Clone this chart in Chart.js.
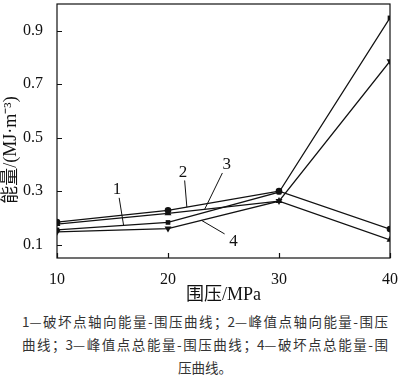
<!DOCTYPE html>
<html>
<head>
<meta charset="utf-8">
<script src="https://cdn.jsdelivr.net/npm/chart.js@4.4.1/dist/chart.umd.min.js"></script>
<style>
  body { margin: 0; background: #fff; }
  #wrap { position: relative; width: 400px; height: 310px; }
  .cap { font-family: 'Noto Sans CJK SC', sans-serif; font-size: 13.5px; color: #333; width: 366px; margin-left: 22px; line-height: 23px; }
  .cap.full { text-align: justify; text-align-last: justify; }
  .cap.mid { text-align: center; }
</style>
</head>
<body>
<div id="wrap"><canvas id="chart" width="400" height="310"></canvas></div>
<div>
  <div class="cap full">1—破坏点轴向能量-围压曲线；2—峰值点轴向能量-围压</div>
  <div class="cap full">曲线；3—峰值点总能量-围压曲线；4—破坏点总能量-围</div>
  <div class="cap mid">压曲线。</div>
</div>
<script>
const pressure = [10, 20, 30, 40];
const failAxial = [0.155, 0.183, 0.296, 0.948];   // 1
const peakAxial = [0.184, 0.228, 0.300, 0.158];   // 2
const peakTotal = [0.177, 0.217, 0.263, 0.118];   // 3
const failTotal = [0.148, 0.160, 0.263, 0.786];   // 4
const yTicks = [0.1, 0.3, 0.5, 0.7, 0.9];
const xTicks = [10, 20, 30, 40];
const yTitle = '能量/(MJ·m⁻³)';

// curve number labels, in data units: text spot and leader line end
const curveLabels = [
  { text: '1', tx: 15.4, ty: 0.305, lx1: 15.6, ly1: 0.275, lx2: 16.0, ly2: 0.172 },
  { text: '2', tx: 21.35, ty: 0.37, lx1: 21.5, ly1: 0.34, lx2: 21.7, ly2: 0.24 },
  { text: '3', tx: 25.3, ty: 0.40, lx1: 24.9, ly1: 0.368, lx2: 23.3, ly2: 0.232 },
  { text: '4', tx: 25.9, ty: 0.112, lx1: 25.1, ly1: 0.14, lx2: 23.05, ly2: 0.19 }
];

const serif = "'Liberation Serif', 'Noto Sans CJK SC', serif";

function series(values, style, rotation) {
  return {
    data: pressure.map((p, i) => ({ x: p, y: values[i] })),
    borderColor: '#111',
    backgroundColor: '#111',
    borderWidth: 1.3,
    pointStyle: style,
    pointRotation: rotation || 0,
    pointRadius: style === 'triangle' ? 4 : 3.3,
    pointBorderWidth: 0,
    tension: 0
  };
}

const framePlugin = {
  id: 'frame',
  afterDraw(chart) {
    const ctx = chart.ctx;
    const a = chart.chartArea;
    const xs = chart.scales.x, ys = chart.scales.y;
    ctx.save();
    ctx.strokeStyle = '#111';
    ctx.lineWidth = 1.2;
    ctx.strokeRect(a.left, a.top, a.right - a.left, a.bottom - a.top);
    ctx.beginPath();
    yTicks.forEach(v => {
      const y = Math.round(ys.getPixelForValue(v)) + 0.5;
      ctx.moveTo(a.left, y); ctx.lineTo(a.left + 5, y);
    });
    xTicks.forEach(v => {
      const x = Math.round(xs.getPixelForValue(v)) + 0.5;
      ctx.moveTo(x, a.bottom); ctx.lineTo(x, a.bottom - 5);
    });
    ctx.stroke();

    ctx.lineWidth = 1;
    ctx.fillStyle = '#111';
    ctx.font = '17px ' + serif;
    ctx.textAlign = 'center';
    ctx.textBaseline = 'middle';
    curveLabels.forEach(l => {
      ctx.beginPath();
      ctx.moveTo(xs.getPixelForValue(l.lx1), ys.getPixelForValue(l.ly1));
      ctx.lineTo(xs.getPixelForValue(l.lx2), ys.getPixelForValue(l.ly2));
      ctx.stroke();
      ctx.fillText(l.text, xs.getPixelForValue(l.tx), ys.getPixelForValue(l.ty));
    });

    // y axis title, a bit below the middle like the original
    ctx.translate(11, 150);
    ctx.rotate(-Math.PI / 2);
    ctx.font = '18px ' + serif;
    ctx.fillText(yTitle, 0, 0);
    ctx.restore();
  }
};

new Chart(document.getElementById('chart'), {
  type: 'line',
  data: {
    datasets: [
      series(failAxial, 'rect'),
      series(peakAxial, 'circle'),
      series(peakTotal, 'triangle'),
      series(failTotal, 'triangle', 180)
    ]
  },
  options: {
    responsive: false,
    animation: false,
    layout: { padding: { top: 1, right: 10, left: 0, bottom: 0 } },
    plugins: { legend: { display: false }, tooltip: { enabled: false } },
    scales: {
      x: {
        type: 'linear',
        min: 10, max: 40,
        grid: { display: false },
        border: { display: false },
        afterBuildTicks(s) { s.ticks = xTicks.map(v => ({ value: v })); },
        afterFit(s) { s.height = 52; s.paddingLeft = 0; s.paddingRight = 0; },
        ticks: { color: '#111', font: { family: serif, size: 16 }, padding: 4 },
        title: { display: true, text: '围压/MPa', color: '#111', font: { family: serif, size: 18 }, padding: { top: 5 } }
      },
      y: {
        min: 0.05, max: 1.0,
        grid: { display: false },
        border: { display: false },
        afterBuildTicks(s) { s.ticks = yTicks.map(v => ({ value: v })); },
        afterFit(s) { s.width = 57; s.paddingTop = 0; s.paddingBottom = 0; },
        ticks: { color: '#111', font: { family: serif, size: 16 }, padding: 6, callback: v => v.toFixed(1) },
        title: { display: false }
      }
    }
  },
  plugins: [framePlugin]
});
</script>
</body>
</html>
